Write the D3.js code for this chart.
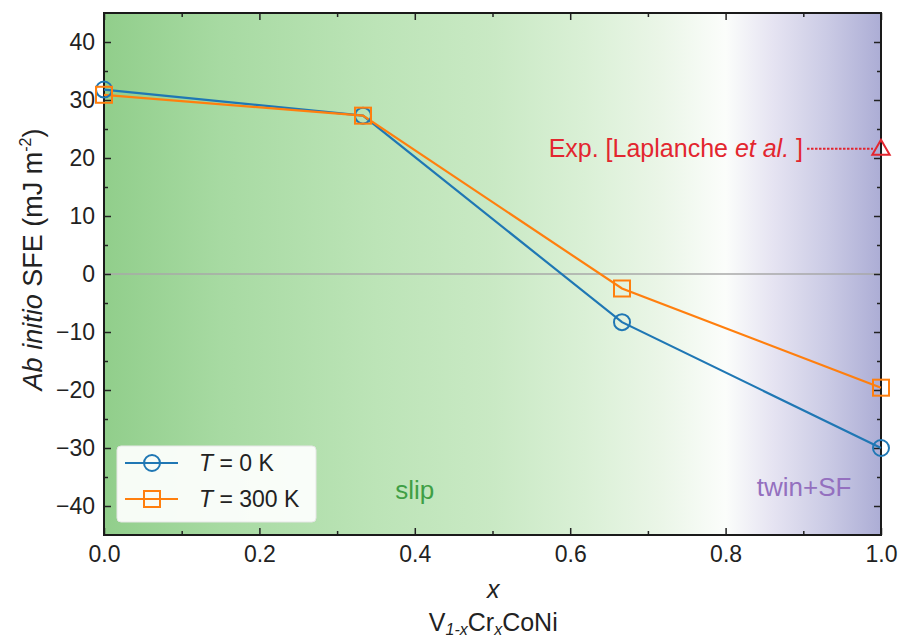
<!DOCTYPE html>
<html>
<head>
<meta charset="utf-8">
<script src="https://cdn.jsdelivr.net/npm/d3@7"></script>
<style>
  html, body { margin: 0; padding: 0; background: #fff; }
  svg { display: block; font-family: "Liberation Sans", Arial, sans-serif; }
</style>
</head>
<body>
<svg id="chart" width="901" height="643"></svg>
<script>
// composition x of V(1-x)Cr(x)CoNi
const xValues = [0, 1 / 3, 2 / 3, 1];
// ab initio SFE (mJ m^-2)
const sfe0K = [31.8, 27.3, -8.3, -30.0];
const sfe300K = [30.9, 27.3, -2.5, -19.6];
// experiment (Laplanche et al.)
const expX = [1.0];
const expSFE = [21.6];

const xTicks = [0, 0.2, 0.4, 0.6, 0.8, 1.0];
const xMinor = [0.1, 0.3, 0.5, 0.7, 0.9];
const yTicks = [-40, -30, -20, -10, 0, 10, 20, 30, 40];
const yMinor = [-35, -25, -15, -5, 5, 15, 25, 35];

const BLUE = '#1f77b4';
const ORANGE = '#ff7f0e';
const RED = '#e3262f';

const margin = { top: 13, right: 20, bottom: 108, left: 104 };
const svg = d3.select('#chart');
const W = +svg.attr('width') - margin.left - margin.right;
const H = +svg.attr('height') - margin.top - margin.bottom;

const x = d3.scaleLinear().domain([0, 1]).range([0, W]);
const y = d3.scaleLinear().domain([-45, 45]).range([H, 0]);

const g = svg.append('g').attr('transform', `translate(${margin.left},${margin.top})`);

// background: green (slip) -> white -> lavender (twin+SF)
const defs = svg.append('defs');
const grad = defs.append('linearGradient')
  .attr('id', 'bg').attr('x1', '0%').attr('x2', '100%').attr('y1', '0%').attr('y2', '0%');
[
  [0, '#91ce8b'], [0.15, '#a7daa2'], [0.35, '#bce4b7'], [0.5, '#c9e9c4'],
  [0.62, '#daf0d6'], [0.72, '#ebf6e8'], [0.8, '#fbfdfb'], [0.86, '#e6e4f2'],
  [0.93, '#cbcbe5'], [1, '#acadd5']
].forEach(([o, c]) => grad.append('stop').attr('offset', o).attr('stop-color', c));

g.append('rect').attr('width', W).attr('height', H).attr('fill', 'url(#bg)');

// zero line
g.append('line')
  .attr('x1', 0).attr('x2', W).attr('y1', y(0)).attr('y2', y(0))
  .attr('stroke', '#a8a8a8').attr('stroke-width', 1.5);

// region labels
g.append('text').attr('x', x(0.4)).attr('y', y(-38.8))
  .attr('text-anchor', 'middle').attr('font-size', 26).attr('fill', '#3f9f45').text('slip');
g.append('text').attr('x', x(0.901)).attr('y', y(-38.3))
  .attr('text-anchor', 'middle').attr('font-size', 26).attr('fill', '#9470bf').text('twin+SF');

// axes with inward ticks on all four sides
function addAxis(axisFn, transform, scale, ticks, size, labels) {
  const a = g.append('g').attr('transform', transform)
    .call(axisFn(scale).tickValues(ticks).tickSizeInner(-size).tickSizeOuter(0)
      .tickFormat(labels ? d3.format('.1f') : ''));
  a.select('.domain').remove();
  a.selectAll('.tick line').attr('stroke', '#222').attr('stroke-width', 1.5);
  return a;
}
const xb = addAxis(d3.axisBottom, `translate(0,${H})`, x, xTicks, 7, true);
xb.selectAll('.tick text').attr('font-size', 23).attr('fill', '#222').attr('dy', '1.05em')
  .attr('font-family', '"Liberation Sans", Arial, sans-serif');
addAxis(d3.axisBottom, `translate(0,${H})`, x, xMinor, 4, false);
addAxis(d3.axisTop, 'translate(0,0)', x, xTicks, 7, false);
addAxis(d3.axisTop, 'translate(0,0)', x, xMinor, 4, false);

const yl = g.append('g')
  .call(d3.axisLeft(y).tickValues(yTicks).tickSizeInner(-7).tickSizeOuter(0)
    .tickFormat(d => d3.format('d')(d).replace('-', '\u2212')));
yl.select('.domain').remove();
yl.selectAll('.tick line').attr('stroke', '#222').attr('stroke-width', 1.5);
yl.selectAll('.tick text').attr('font-size', 23).attr('fill', '#222').attr('x', -9)
  .attr('font-family', '"Liberation Sans", Arial, sans-serif');
addAxis(d3.axisLeft, 'translate(0,0)', y, yMinor, 4, false);
addAxis(d3.axisRight, `translate(${W},0)`, y, yTicks, 7, false);
addAxis(d3.axisRight, `translate(${W},0)`, y, yMinor, 4, false);

// frame
g.append('rect').attr('width', W).attr('height', H)
  .attr('fill', 'none').attr('stroke', '#1a1a1a').attr('stroke-width', 2);

// series
const line = d3.line().x(d => x(d[0])).y(d => y(d[1]));
const series = [
  { name: '0 K', values: sfe0K, color: BLUE, marker: 'circle' },
  { name: '300 K', values: sfe300K, color: ORANGE, marker: 'square' }
];

function drawMarker(sel, kind, color) {
  if (kind === 'circle') {
    sel.append('circle').attr('r', 8).attr('fill', 'none')
      .attr('stroke', color).attr('stroke-width', 2);
  } else {
    sel.append('rect').attr('x', -8).attr('y', -8).attr('width', 16).attr('height', 16)
      .attr('fill', 'none').attr('stroke', color).attr('stroke-width', 2);
  }
}

series.forEach(s => {
  const pts = xValues.map((xv, i) => [xv, s.values[i]]);
  g.append('path').datum(pts).attr('d', line)
    .attr('fill', 'none').attr('stroke', s.color).attr('stroke-width', 2.2);
});
series.forEach(s => {
  xValues.forEach((xv, i) => {
    const m = g.append('g').attr('transform', `translate(${x(xv)},${y(s.values[i])})`);
    drawMarker(m, s.marker, s.color);
  });
});

// experiment marker, dotted leader, label
const ex = x(expX[0]), ey = y(expSFE[0]);
g.append('path')
  .attr('d', d3.symbol().type(d3.symbolTriangle).size(130)())
  .attr('transform', `translate(${ex},${ey + 1})`)
  .attr('fill', 'none').attr('stroke', RED).attr('stroke-width', 2);
g.append('line').attr('x1', ex - 74).attr('x2', ex - 8).attr('y1', ey).attr('y2', ey)
  .attr('stroke', RED).attr('stroke-width', 2).attr('stroke-dasharray', '2.5,1.5');
const expText = g.append('text').attr('x', ex - 78).attr('y', ey + 8)
  .attr('text-anchor', 'end').attr('font-size', 25).attr('fill', RED);
expText.append('tspan').text('Exp. [Laplanche ');
expText.append('tspan').attr('font-style', 'italic').text('et al.');
expText.append('tspan').text(' ]');

// legend
const lg = g.append('g').attr('transform', 'translate(13,433)');
lg.append('rect').attr('width', 199).attr('height', 76).attr('rx', 4)
  .attr('fill', '#fff').attr('fill-opacity', 0.92).attr('stroke', '#e6e6e6');
series.forEach((s, i) => {
  const row = lg.append('g').attr('transform', `translate(0,${17 + i * 36})`);
  row.append('line').attr('x1', 8).attr('x2', 61).attr('stroke', s.color).attr('stroke-width', 2.2);
  drawMarker(row.append('g').attr('transform', 'translate(35,0)'), s.marker, s.color);
  const t = row.append('text').attr('x', 82).attr('y', 8).attr('font-size', 23).attr('fill', '#222');
  t.append('tspan').attr('font-style', 'italic').text('T');
  t.append('tspan').text(' = ' + s.name);
});

// axis labels
const ylab = svg.append('text')
  .attr('transform', `translate(42,${margin.top + y(2.5)}) rotate(-90)`)
  .attr('text-anchor', 'middle').attr('font-size', 27).attr('fill', '#222');
ylab.append('tspan').attr('font-style', 'italic').text('Ab initio');
ylab.append('tspan').text(' SFE (mJ m');
ylab.append('tspan').attr('font-size', 16).attr('dy', -11).text('-2');
ylab.append('tspan').attr('dy', 11).text(')');

svg.append('text').attr('x', margin.left + x(0.501)).attr('y', 598)
  .attr('text-anchor', 'middle').attr('font-size', 25).attr('font-style', 'italic')
  .attr('fill', '#222').text('x');

const xl2 = svg.append('text').attr('x', margin.left + x(0.501)).attr('y', 631)
  .attr('text-anchor', 'middle').attr('font-size', 25).attr('fill', '#222');
xl2.append('tspan').text('V');
xl2.append('tspan').attr('font-size', 16).attr('font-style', 'italic').attr('dy', 4).text('1-x');
xl2.append('tspan').attr('dy', -4).text('Cr');
xl2.append('tspan').attr('font-size', 16).attr('font-style', 'italic').attr('dy', 4).text('x');
xl2.append('tspan').attr('dy', -4).text('CoNi');
</script>
</body>
</html>
